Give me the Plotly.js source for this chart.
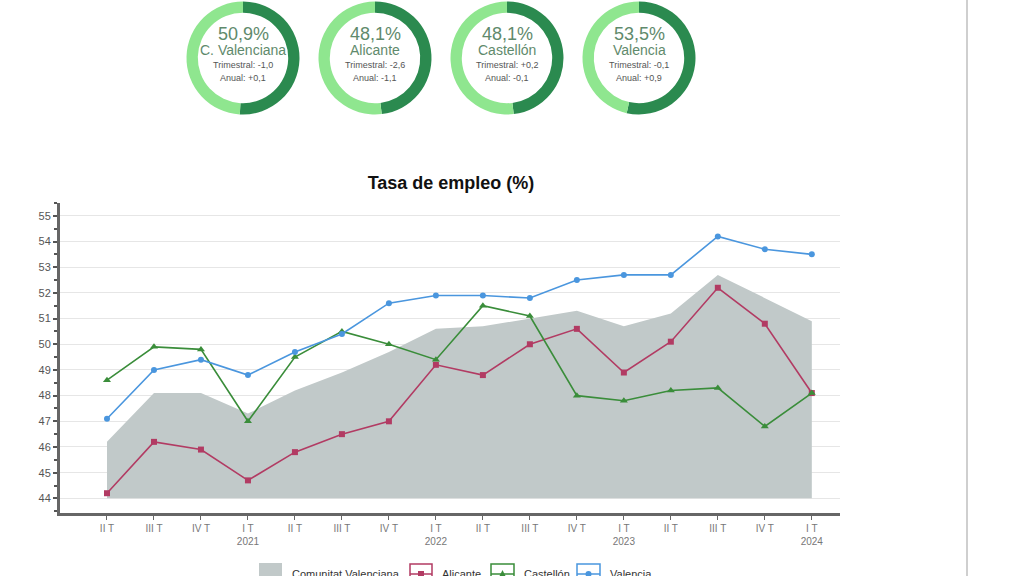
<!DOCTYPE html>
<html><head><meta charset="utf-8">
<script src="https://cdn.plot.ly/plotly-3.0.1.min.js"></script>
<style>
html,body{margin:0;padding:0;background:#fff;width:1024px;height:576px;overflow:hidden;}
#donuts{position:absolute;left:0;top:0;width:1024px;height:120px;}
#chart{position:absolute;left:0;top:0;width:1024px;height:576px;}
#vline{position:absolute;left:966px;top:0;width:2px;height:576px;background:#cfcfcf;}
</style></head><body>
<div id="chart"></div>
<div id="donuts"></div>
<div id="vline"></div>
<script>
// ---- Data ----
var quarters = ["2020-II","2020-III","2020-IV","2021-I","2021-II","2021-III","2021-IV","2022-I","2022-II","2022-III","2022-IV","2023-I","2023-II","2023-III","2023-IV","2024-I"];
var tickLabels = ["II T","III T","IV T","I T<br>2021","II T","III T","IV T","I T<br>2022","II T","III T","IV T","I T<br>2023","II T","III T","IV T","I T<br>2024"];
var comunitat = [46.2,48.1,48.1,47.3,48.2,48.9,49.7,50.6,50.7,51.0,51.3,50.7,51.2,52.7,51.8,50.9];
var baseline  = [44,44,44,44,44,44,44,44,44,44,44,44,44,44,44,44];
var alicante  = [44.2,46.2,45.9,44.7,45.8,46.5,47.0,49.2,48.8,50.0,50.6,48.9,50.1,52.2,50.8,48.1];
var castellon = [48.6,49.9,49.8,47.0,49.5,50.5,50.0,49.4,51.5,51.1,48.0,47.8,48.2,48.3,46.8,48.1];
var valencia  = [47.1,49.0,49.4,48.8,49.7,50.4,51.6,51.9,51.9,51.8,52.5,52.7,52.7,54.2,53.7,53.5];

var seriesNames  = ["Comunitat Valenciana","Alicante","Castellón","Valencia"];
var seriesColors = ["#c1c9c9","#b23b63","#3a8d3a","#4a96de"];

var donutNames  = ["C. Valenciana","Alicante","Castellón","Valencia"];
var donutValues = [50.9,48.1,48.1,53.5];
var donutRest   = [49.1,51.9,51.9,46.5];
var donutValTxt = ["50,9%","48,1%","48,1%","53,5%"];
var trimestral  = ["-1,0","-2,6","+0,2","-0,1"];
var anual       = ["+0,1","-1,1","-0,1","+0,9"];

var FONT = "Arial, 'Liberation Sans', sans-serif";

// ---- Main chart ----
var traces = [
  {x: quarters, y: baseline, type:'scatter', mode:'lines', line:{width:0, color:'rgba(0,0,0,0)'}, showlegend:false, hoverinfo:'skip'},
  {x: quarters, y: comunitat, type:'scatter', mode:'lines', name:seriesNames[0], fill:'tonexty', fillcolor:seriesColors[0], line:{width:0, color:seriesColors[0]}},
  {x: quarters, y: alicante, type:'scatter', mode:'lines+markers', name:seriesNames[1], line:{color:seriesColors[1], width:1.6}, marker:{symbol:'square', size:6, color:seriesColors[1]}},
  {x: quarters, y: castellon, type:'scatter', mode:'lines+markers', name:seriesNames[2], line:{color:seriesColors[2], width:1.6}, marker:{symbol:'triangle-up', size:7, color:seriesColors[2]}},
  {x: quarters, y: valencia, type:'scatter', mode:'lines+markers', name:seriesNames[3], line:{color:seriesColors[3], width:1.6}, marker:{symbol:'circle', size:6, color:seriesColors[3]}}
];

// custom legend (boxes like the reference), positioned in paper coords
var PL=60, PW=780, PB=513, PH=310;
function px(x){return (x-PL)/PW;}
function py(y){return (PB-y)/PH;}
var legBoxes = [[259,282],[410,432],[491,514],[577,600]];
var legText  = [290,440,522,608];
var shapes = [], anns = [];
for (var k=0;k<4;k++){
  var b = legBoxes[k];
  if (k===0){
    shapes.push({type:'rect', xref:'paper', yref:'paper', x0:px(b[0]), x1:px(b[1]), y0:py(582), y1:py(563), fillcolor:seriesColors[0], line:{width:0}});
  } else {
    shapes.push({type:'rect', xref:'paper', yref:'paper', x0:px(b[0]), x1:px(b[1]), y0:py(582), y1:py(564), fillcolor:'#fff', line:{width:1.5, color:seriesColors[k]}});
    shapes.push({type:'line', xref:'paper', yref:'paper', x0:px(b[0]), x1:px(b[1]), y0:py(574), y1:py(574), line:{width:1.5, color:seriesColors[k]}});
    var cx=(b[0]+b[1])/2;
    if (k===2){
      shapes.push({type:'path', xref:'paper', yref:'paper',
        path:'M '+px(cx-3.5)+' '+py(577)+' L '+px(cx+3.5)+' '+py(577)+' L '+px(cx)+' '+py(570)+' Z',
        fillcolor:seriesColors[k], line:{width:0}});
    } else {
      shapes.push({type:(k===3?'circle':'rect'), xref:'paper', yref:'paper', x0:px(cx-3), x1:px(cx+3), y0:py(577), y1:py(571), fillcolor:seriesColors[k], line:{width:0}});
    }
  }
  anns.push({x:px(legText[k]), y:py(574), xref:'paper', yref:'paper', xanchor:'left', yanchor:'middle', showarrow:false,
             text:seriesNames[k], font:{size:11, color:'#333', family:FONT}});
}

var layout = {
  width:1024, height:576,
  margin:{l:60, r:184, t:203, b:63, autoexpand:false},
  paper_bgcolor:'rgba(0,0,0,0)', plot_bgcolor:'rgba(0,0,0,0)',
  font:{family:FONT, color:'#555'},
  title:{text:'<b>Tasa de empleo (%)</b>', font:{size:18, color:'#111', family:FONT}, x:451/1024, xanchor:'center', y:1-183/576, yanchor:'middle'},
  xaxis:{type:'category', range:[-1,15.6], tickvals:quarters, ticktext:tickLabels, showgrid:false, zeroline:false,
         showline:true, linecolor:'#666', linewidth:3, ticks:'outside', ticklen:4, tickcolor:'#666', tickwidth:1,
         tickfont:{size:10, color:'#777'}},
  yaxis:{range:[43.43,55.5], dtick:1, tick0:44, showgrid:true, gridcolor:'#e6e6e6', gridwidth:1, zeroline:false,
         showline:true, linecolor:'#666', linewidth:3, ticks:'outside', ticklen:4, tickcolor:'#555', tickwidth:2,
         tickfont:{size:11, color:'#555'},
         minor:{dtick:0.5, tick0:44, ticks:'outside', ticklen:3, tickcolor:'#555', tickwidth:2, showgrid:false}},
  showlegend:false,
  shapes:shapes, annotations:anns,
  hovermode:false
};
Plotly.newPlot('chart', traces, layout, {displayModeBar:false, staticPlot:true});

// ---- Donuts ----
var centers = [243, 375, 507, 639];
var R = 56.5, CY = 58, H = 120, W = 1024;
var dTraces = [], dAnn = [];
function dA(cx, yy, txt, size, color){
  return {x:cx/W, y:1-yy/H, xref:'paper', yref:'paper', xanchor:'center', yanchor:'middle', text:txt, showarrow:false,
          font:{size:size, color:color, family:FONT}};
}
for (var i=0;i<4;i++){
  var c = centers[i];
  dTraces.push({type:'pie', values:[donutValues[i], donutRest[i]], labels:['v','r'], sort:false, direction:'clockwise', rotation:0,
    hole:0.8, textinfo:'none', hoverinfo:'skip', showlegend:false,
    marker:{colors:['#2b8a4f','#8fe68f'], line:{width:0}},
    domain:{x:[(c-R)/W,(c+R)/W], y:[(H-CY-R)/H,(H-CY+R)/H]}});
  dAnn.push(dA(c, 34, donutValTxt[i], 18, '#5f8a6c'));
  dAnn.push(dA(c, 50, donutNames[i], 14, '#5f8a6c'));
  dAnn.push(dA(c, 65, 'Trimestral: '+trimestral[i], 9, '#555'));
  dAnn.push(dA(c, 78, 'Anual: '+anual[i], 9, '#555'));
}
Plotly.newPlot('donuts', dTraces, {width:W, height:H, margin:{l:0,r:0,t:0,b:0}, paper_bgcolor:'rgba(0,0,0,0)', annotations:dAnn, showlegend:false},
  {displayModeBar:false, staticPlot:true});
</script>
</body></html>
